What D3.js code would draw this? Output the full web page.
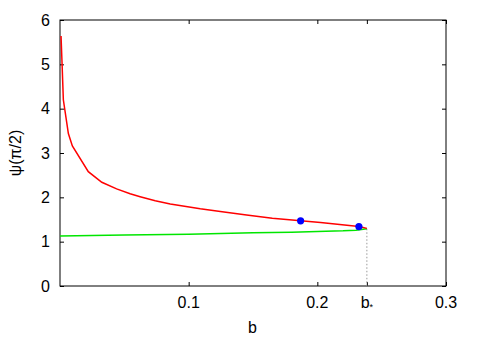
<!DOCTYPE html>
<html lang="en">
<head>
<meta charset="UTF-8">
<title>psi(pi/2) vs b</title>
<script src="https://d3js.org/d3.v7.min.js"></script>
<style>
  body { margin: 0; background: #fff; }
  text { font-family: "Liberation Sans", Arial, sans-serif; }
  .line { fill: none; stroke-width: 1.5px; }
  .axis path { display: none; }
  .axis line { stroke: #000; }
</style>
</head>
<body>
<svg id="chart" width="483" height="338"></svg>
<script>
    // upper (red) branch
    const redB   = [0.0008, 0.0016, 0.0026, 0.0065, 0.0096, 0.022, 0.0325, 0.044, 0.0545, 0.0623, 0.074, 0.0857, 0.109, 0.1246, 0.145, 0.165, 0.187, 0.2025, 0.2323, 0.2385];
    const redPsi = [5.64, 5.02, 4.2, 3.44, 3.16, 2.58, 2.34, 2.19, 2.08, 2.015, 1.925, 1.85, 1.74, 1.68, 1.60, 1.53, 1.47, 1.43, 1.34, 1.30];
    // lower (green) branch
    const greenB   = [0, 0.05, 0.1, 0.15, 0.18, 0.2, 0.22, 0.23, 0.2385];
    const greenPsi = [1.13, 1.15, 1.17, 1.20, 1.215, 1.23, 1.245, 1.26, 1.29];
    // marked points
    const dotB   = [0.187, 0.2323];
    const dotPsi = [1.47, 1.34];
    const bStar = 0.2385;
    const bStarPsi = 1.29;

    const xTicks = [0.1, 0.2, bStar, 0.3];
    const xTickLabels = ["0.1", "0.2", "b*", "0.3"];
    const yTicks = [0, 1, 2, 3, 4, 5, 6];

    const svg = d3.select("#chart");
    const margin = {top: 20, right: 37, bottom: 52, left: 60};
    const width = 483 - margin.left - margin.right;
    const height = 338 - margin.top - margin.bottom;

    const x = d3.scaleLinear().domain([0, 0.3]).range([0, width]);
    const y = d3.scaleLinear().domain([0, 6]).range([height, 0]);

    const g = svg.append("g")
        .attr("transform", `translate(${margin.left},${margin.top})`);

    // ticks on all sides, pointing inward
    g.append("g").attr("class", "axis")
        .attr("transform", `translate(0,${height})`)
        .call(d3.axisBottom(x).tickValues(xTicks).tickSize(-4).tickFormat(() => ""));
    g.append("g").attr("class", "axis")
        .call(d3.axisTop(x).tickValues(xTicks).tickSize(-4).tickFormat(() => ""));
    g.append("g").attr("class", "axis")
        .call(d3.axisLeft(y).tickValues(yTicks).tickSize(-4).tickPadding(10).tickFormat(d3.format("d")))
        .selectAll("text").attr("font-size", 16).attr("fill", "#000");
    g.append("g").attr("class", "axis")
        .attr("transform", `translate(${width},0)`)
        .call(d3.axisRight(y).tickValues(yTicks).tickSize(-4).tickFormat(() => ""));

    // x tick labels (b* needs a subscript)
    xTicks.forEach((v, i) => {
        const t = g.append("text")
            .attr("x", x(v))
            .attr("y", height + 22)
            .attr("text-anchor", "middle")
            .attr("font-size", 16);
        if (xTickLabels[i] === "b*") {
            t.append("tspan").text("b");
            t.append("tspan").attr("font-size", 9).attr("dy", 2).text("*");
        } else {
            t.text(xTickLabels[i]);
        }
    });

    // frame
    g.append("rect")
        .attr("width", width).attr("height", height)
        .attr("fill", "none").attr("stroke", "#000").attr("stroke-width", 1);

    // dotted marker at b*
    g.append("line")
        .attr("x1", x(bStar)).attr("x2", x(bStar))
        .attr("y1", y(bStarPsi)).attr("y2", height)
        .attr("stroke", "#999").attr("stroke-dasharray", "1.5,2");

    const line = d3.line().x(d => x(d[0])).y(d => y(d[1]));

    g.append("path")
        .datum(greenB.map((b, i) => [b, greenPsi[i]]))
        .attr("class", "line").attr("stroke", "#00e600").attr("d", line);
    g.append("path")
        .datum(redB.map((b, i) => [b, redPsi[i]]))
        .attr("class", "line").attr("stroke", "#ff0000").attr("d", line);

    g.selectAll(".dot")
        .data(dotB.map((b, i) => [b, dotPsi[i]]))
        .join("circle")
        .attr("cx", d => x(d[0])).attr("cy", d => y(d[1]))
        .attr("r", 3.6).attr("fill", "#0000ff");

    // axis titles
    svg.append("text")
        .attr("x", margin.left + x(0.1495)).attr("y", 333)
        .attr("text-anchor", "middle").attr("font-size", 16)
        .text("b");
    svg.append("text")
        .attr("transform", "translate(21,153) rotate(-90)")
        .attr("text-anchor", "middle").attr("font-size", 16)
        .text("ψ(π/2)");
</script>
</body>
</html>
